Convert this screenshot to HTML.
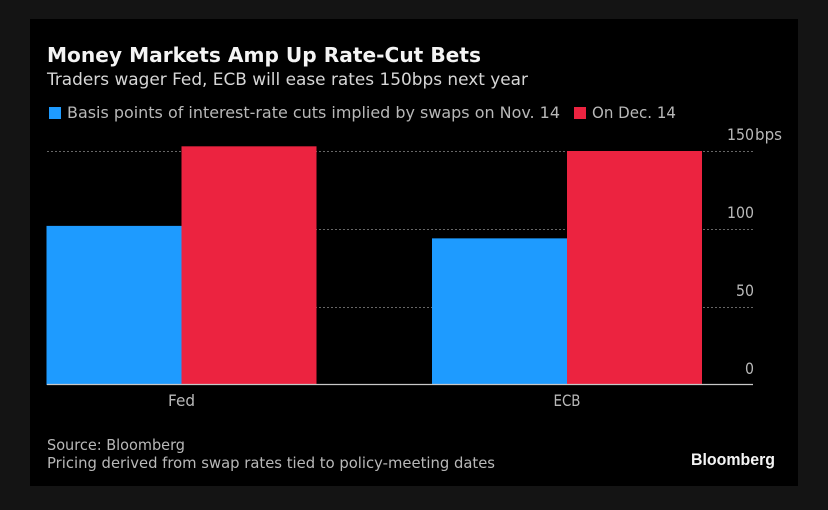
<!DOCTYPE html>
<html lang="en">
<head>
<meta charset="utf-8">
<title>Money Markets Amp Up Rate-Cut Bets</title>
<style>
html,body{margin:0;padding:0;background:#141414;width:828px;height:510px;overflow:hidden}
svg{display:block}
text{font-family:"DejaVu Sans","Liberation Sans",sans-serif}
</style>
</head>
<body>
<svg id="chart" xmlns="http://www.w3.org/2000/svg" width="828" height="510" viewBox="0 0 828 510">
  <rect x="0" y="0" width="828" height="510" fill="#141414"/>
  <rect x="30" y="19" width="768" height="467" fill="#000"/>
  <text x="47" y="62" font-size="20" font-weight="700" fill="#f4f4f4" textLength="434" lengthAdjust="spacingAndGlyphs">Money Markets Amp Up Rate-Cut Bets</text>
  <text x="47" y="85" font-size="17" fill="#d6d6d6" textLength="481" lengthAdjust="spacingAndGlyphs">Traders wager Fed, ECB will ease rates 150bps next year</text>
  <g>
    <rect x="49" y="107" width="12" height="12" fill="#1e9bff"/>
    <text x="67" y="118" font-size="16" fill="#b8b8b8" textLength="493" lengthAdjust="spacingAndGlyphs">Basis points of interest-rate cuts implied by swaps on Nov. 14</text>
    <rect x="574" y="107" width="12" height="12" fill="#ec2340"/>
    <text x="592" y="118" font-size="16" fill="#b8b8b8" textLength="84" lengthAdjust="spacingAndGlyphs">On Dec. 14</text>
  </g>
  <g id="grid"></g>
  <g id="bars"></g>
  <line x1="47" x2="753" y1="384.5" y2="384.5" stroke="#c8c8c8" stroke-width="1.2"/>
  <g id="yticks"></g>
  <g id="xticks"></g>
  <text x="47" y="450" font-size="15.5" fill="#b8b8b8" textLength="138" lengthAdjust="spacingAndGlyphs">Source: Bloomberg</text>
  <text x="47" y="468" font-size="15.5" fill="#b8b8b8" textLength="448" lengthAdjust="spacingAndGlyphs">Pricing derived from swap rates tied to policy-meeting dates</text>
  <text x="691" y="465" font-size="16.5" font-weight="700" fill="#f4f4f4" style="font-family:'Liberation Sans',sans-serif" textLength="84" lengthAdjust="spacingAndGlyphs">Bloomberg</text>
</svg>
<script>
var categories = ['Fed', 'ECB'];
var nov14Values = [102, 94];
var dec14Values = [153, 150];
var yTickValues = [0, 50, 100, 150];
var yTickLabels = ['0', '50', '100', '150'];

var SVG_NS = 'http://www.w3.org/2000/svg';
function yScale(v) { return 385 - v * 1.56; }
function xCenter(i) { return 181.5 + i * 385.5; }
var barWidth = 135;

var gridGroup = document.getElementById('grid');
var barsGroup = document.getElementById('bars');
var yTicksGroup = document.getElementById('yticks');
var xTicksGroup = document.getElementById('xticks');

yTickValues.forEach(function (v, i) {
  if (v !== 0) {
    var line = document.createElementNS(SVG_NS, 'line');
    
    
    line.setAttribute('x1', 47);
    line.setAttribute('x2', 753);
    line.setAttribute('y1', yScale(v) + 0.5);
    line.setAttribute('y2', yScale(v) + 0.5);
    line.setAttribute('stroke', '#666666');
    line.setAttribute('stroke-width', 1);
    line.setAttribute('stroke-dasharray', '2 2');
    gridGroup.appendChild(line);
  }
  var label = document.createElementNS(SVG_NS, 'text');
  
  
  label.setAttribute('x', 754);
  label.setAttribute('y', yScale(v) - 11);
  label.setAttribute('text-anchor', 'end');
  label.setAttribute('font-size', 16);
  label.setAttribute('fill', '#b8b8b8');
  label.setAttribute('textLength', yTickLabels[i].length * 9);
  label.setAttribute('lengthAdjust', 'spacingAndGlyphs');
  label.textContent = yTickLabels[i];
  yTicksGroup.appendChild(label);
  if (i === yTickValues.length - 1) {
    var unit = document.createElementNS(SVG_NS, 'text');
    
    
    unit.setAttribute('x', 755);
    unit.setAttribute('y', yScale(v) - 11);
    unit.setAttribute('font-size', 16);
    unit.setAttribute('fill', '#b8b8b8');
    unit.setAttribute('textLength', 27);
    unit.setAttribute('lengthAdjust', 'spacingAndGlyphs');
    unit.textContent = 'bps';
    yTicksGroup.appendChild(unit);
  }
});

function drawBar(value, x, color) {
  var bar = document.createElementNS(SVG_NS, 'rect');
  
  
  bar.setAttribute('x', x);
  bar.setAttribute('y', yScale(value));
  bar.setAttribute('width', barWidth);
  bar.setAttribute('height', yScale(0) - yScale(value));
  bar.setAttribute('fill', color);
  barsGroup.appendChild(bar);
}

categories.forEach(function (name, i) {
  var cx = xCenter(i);
  drawBar(nov14Values[i], cx - barWidth, '#1e9bff');
  drawBar(dec14Values[i], cx, '#ec2340');
  var label = document.createElementNS(SVG_NS, 'text');
  
  
  label.setAttribute('x', cx);
  label.setAttribute('y', 406);
  label.setAttribute('text-anchor', 'middle');
  label.setAttribute('font-size', 16);
  label.setAttribute('fill', '#b8b8b8');
  label.setAttribute('textLength', 27);
  label.setAttribute('lengthAdjust', 'spacingAndGlyphs');
  label.textContent = name;
  xTicksGroup.appendChild(label);
});
</script>
</body>
</html>
